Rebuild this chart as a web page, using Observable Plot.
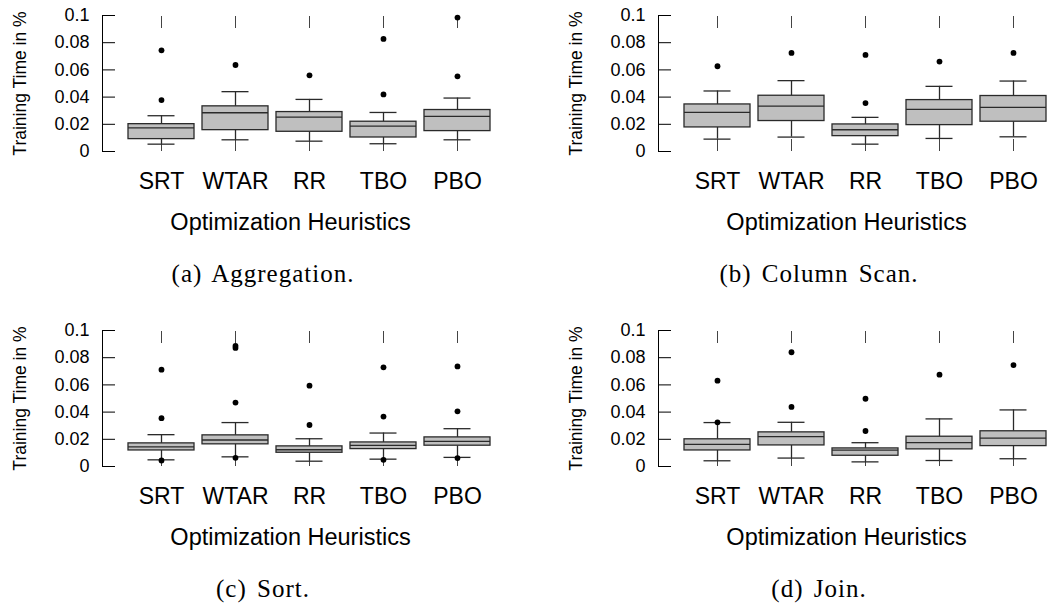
<!DOCTYPE html>
<html>
<head>
<meta charset="utf-8">
<script src="https://cdn.jsdelivr.net/npm/d3@7"></script>
<script src="https://cdn.jsdelivr.net/npm/@observablehq/plot@0.6"></script>
<style>
  html, body { margin: 0; padding: 0; background: #fff; }
  #root { position: relative; width: 1047px; height: 604px; overflow: hidden; background: #fff; }
  .panel { position: absolute; width: 523px; height: 300px; }
  .panel svg { position: absolute; left: 0; top: 0; overflow: visible; }
  .caption { position: absolute; left: 0; width: 526px; top: 261px; text-align: center;
             font-family: "Liberation Serif", "DejaVu Serif", serif; font-size: 25px; line-height: 25px;
             letter-spacing: 1px; color: #000; word-spacing: 3px; }
</style>
</head>
<body>
<div id="root"></div>
<script>
const categories = ["SRT", "WTAR", "RR", "TBO", "PBO"];
const yTicks = [0, 0.02, 0.04, 0.06, 0.08, 0.1];
const yTickLabels = ["0", "0.02", "0.04", "0.06", "0.08", "0.1"];
const yLabel = "Training Time in %";
const xLabel = "Optimization Heuristics";

// (a) Aggregation
const aggLow    = [0.0054, 0.0086, 0.0076, 0.0057, 0.0086];
const aggQ1     = [0.0091, 0.0157, 0.0145, 0.0103, 0.0150];
const aggMedian = [0.0174, 0.0285, 0.0253, 0.0187, 0.0258];
const aggQ3     = [0.0201, 0.0332, 0.0290, 0.0219, 0.0305];
const aggHigh   = [0.0263, 0.0440, 0.0383, 0.0287, 0.0393];
const aggOutliers = [["SRT", 0.0744], ["SRT", 0.0378], ["WTAR", 0.0636], ["RR", 0.0560],
                     ["TBO", 0.0828], ["TBO", 0.0420], ["PBO", 0.0985], ["PBO", 0.0553]];

// (b) Column Scan
const scanLow    = [0.0091, 0.0106, 0.0054, 0.0096, 0.0108];
const scanQ1     = [0.0177, 0.0224, 0.0113, 0.0194, 0.0219];
const scanMedian = [0.0287, 0.0334, 0.0160, 0.0310, 0.0324];
const scanQ3     = [0.0346, 0.0410, 0.0199, 0.0378, 0.0408];
const scanHigh   = [0.0445, 0.0521, 0.0251, 0.0479, 0.0518];
const scanOutliers = [["SRT", 0.0627], ["WTAR", 0.0725], ["RR", 0.0710], ["RR", 0.0356],
                      ["TBO", 0.0661], ["PBO", 0.0725]];

// (c) Sort
const sortLow    = [0.0049, 0.0071, 0.0039, 0.0054, 0.0067];
const sortQ1     = [0.0118, 0.0163, 0.0101, 0.0128, 0.0153];
const sortMedian = [0.0145, 0.0195, 0.0123, 0.0155, 0.0185];
const sortQ3     = [0.0170, 0.0229, 0.0148, 0.0177, 0.0214];
const sortHigh   = [0.0234, 0.0323, 0.0204, 0.0246, 0.0278];
const sortOutliers = [["SRT", 0.0712], ["SRT", 0.0355], ["SRT", 0.0044],
                      ["WTAR", 0.0887], ["WTAR", 0.0872], ["WTAR", 0.0470], ["WTAR", 0.0064],
                      ["RR", 0.0594], ["RR", 0.0305],
                      ["TBO", 0.0729], ["TBO", 0.0367], ["TBO", 0.0049],
                      ["PBO", 0.0736], ["PBO", 0.0406], ["PBO", 0.0062]];

// (d) Join
const joinLow    = [0.0042, 0.0062, 0.0034, 0.0044, 0.0057];
const joinQ1     = [0.0118, 0.0155, 0.0079, 0.0126, 0.0150];
const joinMedian = [0.0163, 0.0219, 0.0121, 0.0175, 0.0209];
const joinQ3     = [0.0200, 0.0251, 0.0133, 0.0219, 0.0259];
const joinHigh   = [0.0323, 0.0325, 0.0175, 0.0350, 0.0416];
const joinOutliers = [["SRT", 0.0631], ["SRT", 0.0325], ["WTAR", 0.0840], ["WTAR", 0.0438],
                      ["RR", 0.0498], ["RR", 0.0261], ["TBO", 0.0675], ["PBO", 0.0746]];

const captions = ["(a) Aggregation.", "(b) Column Scan.", "(c) Sort.", "(d) Join."];

function makePanel(low, q1, med, q3, high, outliers) {
  const rows = categories.map((c, i) => ({cat: c, low: low[i], q1: q1[i], med: med[i], q3: q3[i], high: high[i]}));
  const pts = outliers.map(([cat, v]) => ({cat, v}));
  const lineColor = "#2a2a2a";
  return Plot.plot({
    width: 520,
    height: 250,
    marginLeft: 102,
    marginRight: 26,
    marginTop: 15,
    marginBottom: 99,
    style: {fontFamily: "'Liberation Sans', Arial, sans-serif", color: "#000", background: "transparent", overflow: "visible"},
    x: {domain: categories, paddingInner: 0.11, paddingOuter: 0.055, insetLeft: 22},
    y: {domain: [0, 0.1]},
    marks: [
      Plot.axisY({ticks: yTicks, tickSize: 0, tickPadding: 13, fontSize: 18, label: null,
                  tickFormat: (d) => yTickLabels[yTicks.indexOf(d)]}),
      Plot.axisY({ticks: yTicks, tickSize: -13, tickFormat: () => "", label: null, stroke: "#000"}),
      Plot.frame({anchor: "left", stroke: "#000"}),
      Plot.axisX({tickSize: 0, tickPadding: 21, fontSize: 23, label: null}),
      Plot.axisX({tickSize: -12, tickFormat: () => "", label: null, stroke: "#444"}),
      Plot.axisX({anchor: "top", tickSize: -12, tickFormat: () => "", label: null, stroke: "#444"}),
      Plot.text([yLabel], {frameAnchor: "left", textAnchor: "middle", rotate: -90, dx: -82, fontSize: 17.5}),
      Plot.text([xLabel], {frameAnchor: "bottom", textAnchor: "middle", lineAnchor: "top", dx: -8, dy: 62, fontSize: 23.5}),
      Plot.ruleX(rows, {x: "cat", y1: "low", y2: "q1", stroke: lineColor, strokeWidth: 1.3}),
      Plot.ruleX(rows, {x: "cat", y1: "q3", y2: "high", stroke: lineColor, strokeWidth: 1.3}),
      Plot.tickY(rows, {x: "cat", y: "low", stroke: lineColor, strokeWidth: 1.3, insetLeft: 19.5, insetRight: 19.5}),
      Plot.tickY(rows, {x: "cat", y: "high", stroke: lineColor, strokeWidth: 1.3, insetLeft: 19.5, insetRight: 19.5}),
      Plot.barY(rows, {x: "cat", y1: "q1", y2: "q3", fill: "#bfbfbf", stroke: lineColor, strokeWidth: 1.3}),
      Plot.tickY(rows, {x: "cat", y: "med", stroke: lineColor, strokeWidth: 1.3}),
      Plot.dot(pts, {x: "cat", y: "v", r: 2.9, fill: "#000", stroke: "none"})
    ]
  });
}

const panels = [
  makePanel(aggLow, aggQ1, aggMedian, aggQ3, aggHigh, aggOutliers),
  makePanel(scanLow, scanQ1, scanMedian, scanQ3, scanHigh, scanOutliers),
  makePanel(sortLow, sortQ1, sortMedian, sortQ3, sortHigh, sortOutliers),
  makePanel(joinLow, joinQ1, joinMedian, joinQ3, joinHigh, joinOutliers)
];
const offsets = [[0, 0], [556, 0], [0, 315], [556, 315]];
const root = document.getElementById("root");
panels.forEach((svg, i) => {
  const div = document.createElement("div");
  div.className = "panel";
  div.style.left = offsets[i][0] + "px";
  div.style.top = offsets[i][1] + "px";
  div.appendChild(svg);
  const cap = document.createElement("div");
  cap.className = "caption";
  cap.textContent = captions[i];
  div.appendChild(cap);
  root.appendChild(div);
});
</script>
</body>
</html>
